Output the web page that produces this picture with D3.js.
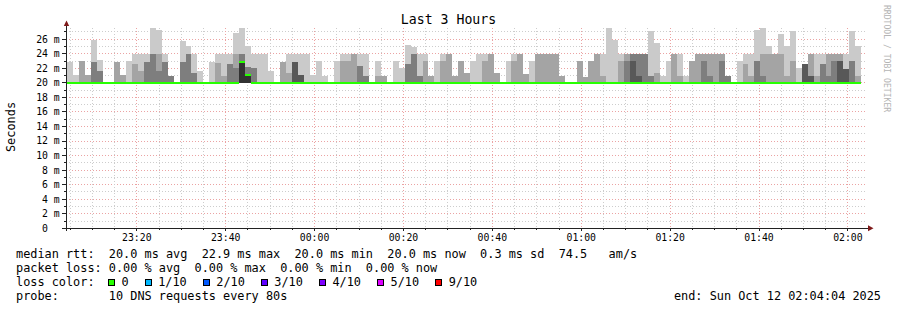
<!DOCTYPE html>
<html>
<head>
<meta charset="utf-8">
<script src="https://cdn.jsdelivr.net/npm/d3@7/dist/d3.min.js"></script>
<style>
body { margin: 0; background: #fff; }
text { font-family: "DejaVu Sans Mono", monospace; white-space: pre; }
</style>
</head>
<body>
<svg id="chart" width="897" height="310"></svg>
<script>
// smokeping: 10 sorted pings per 80s step, lower half sits on the 20 ms floor
const floorRtt = 20.0;
const p10 = [22.9,21.1,23.0,21.1,25.9,23.1,20,20,22.9,21.1, 23.0,24,24,24,27.5,27.2,24,21.0,20,25.7,
  25.0,24,21.6,20,22.9,24,24,24,26.8,27.5, 25.0,24,24,24,21.6,20,22.9,24,24,24,
  24,21.1,23.0,21.0,20,23.0,24,24,24,24, 24,20,23.0,21.0,20,23.0,22.0,25.2,24.9,24,
  24,21.0,23.0,24,24,21.0,23.0,21.3,23.0,24, 24,24,21.3,20,23.0,24,24,21.2,23.0,24,
  24,24,24,21.0,20,20,23.0,20.8,23.0,24, 24,27.5,25.9,24,24,24,24,24,27.1,25.5,
  21.0,23.0,24,24,21.0,23.0,24,24,24,24, 24,21.0,20,23.0,24,24,27.2,27.5,25.0,24,
  26.7,25.0,27.1,22.0,22.6,24,24,24,24,24, 24,24,27.1,25.0,null];
const p9 = [20,20,23.0,21.1,22.9,21.6,20,20,22.9,21.1, 20,22.6,21.6,22.9,24,24,22.9,21.0,20,22.9,
  24,21.3,20,20,20,22.7,21.0,22.6,24,24, 22.2,22.1,20,20,20,20,22.9,21.4,22.9,21.1,
  20,20,20,20,20,20,23.0,23.0,24,22.3, 21.0,20,21.0,21.0,20,20,20,22.6,24,21.0,
  23.0,21.0,20,23.0,24,21.0,23.0,21.3,20,20, 23.0,24,21.3,20,20,23.0,24,21.2,20,24,
  24,24,24,21.0,20,20,23.0,20.8,23.0,24, 21.0,20,20,23.0,24,24,24,24,21.0,21.3,
  20,20,24,21.0,20,23.0,24,24,24,24, 24,21.0,20,20,22.6,21.0,23.0,24,24,24,
  24,21.0,23.0,20,22.6,24,21.0,22.6,24,24, 24,21.9,23.0,21.0,null];
const p8 = [20,20,20,20,22.9,21.6,20,20,20,20, 20,20,20,22.9,24,21.6,22.9,21.0,20,22.9,
  24,21.3,20,20,20,20,20,22.6,22.0,24, 22.2,22.1,20,20,20,20,20,20,22.9,21.1,
  20,20,20,20,20,20,20,20,20,22.3, 21.0,20,20,20,20,20,20,22.6,24,21.0,
  20,20,20,20,20,20,20,20,20,20, 20,20,20,20,20,20,20,20,20,20,
  20,20,20,20,20,20,20,20,20,20, 20,20,20,20,23.0,24,24,24,21.0,20,
  20,20,20,20,20,20,20,23.0,21.0,20, 23.0,21.0,20,20,20,20,23.0,21.0,20,20,
  20,20,20,20,22.6,21.0,20,22.6,21.0,23.0, 23.0,21.9,23.0,20,null];
const p7 = [20,20,20,20,20,20,20,20,20,20, 20,20,20,20,20,20,20,20,20,20,
  20,20,20,20,20,20,20,20,20,22.9, 21.0,20,20,20,20,20,20,20,22.9,21.1,
  20,20,20,20,20,20,20,20,20,20, 20,20,20,20,20,20,20,20,20,20,
  20,20,20,20,20,20,20,20,20,20, 20,20,20,20,20,20,20,20,20,20,
  20,20,20,20,20,20,20,20,20,20, 20,20,20,20,20,23.0,21.0,20,20,20,
  20,20,20,20,20,20,20,20,20,20, 20,20,20,20,20,20,20,20,20,20,
  20,20,20,20,22.6,21.0,20,20,20,20, 23.0,21.9,20,20,null];
const p6 = [20,20,20,20,20,20,20,20,20,20, 20,20,20,20,20,20,20,20,20,20,
  20,20,20,20,20,20,20,20,20,22.9, 21.0,20,20,20,20,20,20,20,20,20,
  20,20,20,20,20,20,20,20,20,20, 20,20,20,20,20,20,20,20,20,20,
  20,20,20,20,20,20,20,20,20,20, 20,20,20,20,20,20,20,20,20,20,
  20,20,20,20,20,20,20,20,20,20, 20,20,20,20,20,20,20,20,20,20,
  20,20,20,20,20,20,20,20,20,20, 20,20,20,20,20,20,20,20,20,20,
  20,20,20,20,20,20,20,20,20,20, 20,20,20,20,null];
const median = [20,20,20,20,20,20,20,20,20,20, 20,20,20,20,20,20,20,20,20,20,
  20,20,20,20,20,20,20,20,20,22.9, 21.1,20,20,20,20,20,20,20,20,20,
  20,20,20,20,20,20,20,20,20,20, 20,20,20,20,20,20,20,20,20,20,
  20,20,20,20,20,20,20,20,20,20, 20,20,20,20,20,20,20,20,20,20,
  20,20,20,20,20,20,20,20,20,20, 20,20,20,20,20,20,20,20,20,20,
  20,20,20,20,20,20,20,20,20,20, 20,20,20,20,20,20,20,20,20,20,
  20,20,20,20,20,20,20,20,20,20, 20,20,20,20,null];

const yTicks = [0,2,4,6,8,10,12,14,16,18,20,22,24,26];
const yLabels = ["0","2","4","6","8","10","12","14","16","18","20","22","24","26"];
const xLabels = ["23:20","23:40","00:00","00:20","00:40","01:00","01:20","01:40","02:00"];

const lossLabels = ["0","1/10","2/10","3/10","4/10","5/10","9/10"];
const lossColors = ["#26ff00","#00b8ff","#0059ff","#5e00ff","#7e00ff","#dd00ff","#ff0000"];
const smokeColors = ["#cacaca","#a4a4a4","#7e7e7e","#585858","#323232"];

const tStart = new Date(2025, 9, 11, 23, 4, 4);
const tEnd = new Date(2025, 9, 12, 2, 4, 4);
const firstStep = new Date(2025, 9, 11, 23, 4, 17, 500);
const stepSec = 80;

const svg = d3.select("#chart");
const x = d3.scaleTime().domain([tStart, tEnd]).range([66, 866]);
const y = d3.scaleLinear().domain([0, 27.5]).range([228.3, 28.3]);

const stepT = i => new Date(+firstStep + i * stepSec * 1000);

svg.append("rect").attr("width", 897).attr("height", 310).attr("fill", "#fff");

// grid (under the data)
const grid = svg.append("g").attr("shape-rendering", "crispEdges").attr("stroke-dasharray", "1,2");
d3.range(1, 28).forEach(v => {
  grid.append("line").attr("x1", 66).attr("x2", 866).attr("y1", y(v)).attr("y2", y(v))
    .attr("stroke", v % 2 === 0 ? "#eba3a3" : "#cdcdcd");
});
const minorT = d3.timeMinute.every(5).range(tStart, tEnd);
minorT.forEach(t => {
  const major = t.getMinutes() % 20 === 0;
  grid.append("line").attr("x1", x(t)).attr("x2", x(t)).attr("y1", 28.3).attr("y2", 228.3)
    .attr("stroke", major ? "#eba3a3" : "#cdcdcd");
});

// smoke
const bands = [p10, p9, p8, p7, p6];
bands.forEach((arr, b) => {
  svg.append("g").attr("shape-rendering", "crispEdges")
    .selectAll("rect").data(arr.map((v, i) => ({v, i})).filter(d => d.v != null && d.v > floorRtt))
    .join("rect")
    .attr("x", d => x(stepT(d.i)))
    .attr("width", d => x(stepT(d.i + 1)) - x(stepT(d.i)))
    .attr("y", d => y(d.v))
    .attr("height", d => y(floorRtt) - y(d.v))
    .attr("fill", smokeColors[b]);
});

// median, drawn as a thin stacked band like smokeping does
const sw = 27.5 / 200;
svg.append("g").attr("shape-rendering", "crispEdges")
  .selectAll("rect").data(median.map((v, i) => ({v, i})).filter(d => d.v != null))
  .join("rect")
  .attr("x", d => x(stepT(d.i)))
  .attr("width", d => x(stepT(d.i + 1)) - x(stepT(d.i)))
  .attr("y", d => y(d.v + sw))
  .attr("height", d => y(d.v - sw) - y(d.v + sw))
  .attr("fill", lossColors[0]);

// axes
const ax = svg.append("g").attr("shape-rendering", "crispEdges").attr("stroke", "#222");
ax.append("line").attr("x1", 62).attr("x2", 868).attr("y1", y(0)).attr("y2", y(0));
ax.append("line").attr("x1", 66.5).attr("x2", 66.5).attr("y1", 231).attr("y2", 26);
d3.range(1, 28).forEach(v => {
  ax.append("line").attr("x1", v % 2 === 0 ? 62 : 64).attr("x2", 66).attr("y1", y(v)).attr("y2", y(v));
});
minorT.forEach(t => {
  ax.append("line").attr("x1", x(t)).attr("x2", x(t)).attr("y1", y(0)).attr("y2", y(0) + (t.getMinutes() % 20 === 0 ? 3 : 2));
});
svg.append("path").attr("d", "M868,225.3L873.5,228.3L868,231.3Z").attr("fill", "#7f1a1a");
svg.append("path").attr("d", "M63.8,26L66.5,20.5L69.2,26Z").attr("fill", "#7f1a1a");

// y tick labels
const yl = svg.append("g").attr("font-size", "9.8px").attr("fill", "#000");
yTicks.forEach((v, i) => {
  yl.append("text").attr("x", 48).attr("y", y(v)).attr("dy", "0.35em").attr("text-anchor", "end").text(yLabels[i]);
  if (v > 0) yl.append("text").attr("x", 53.8).attr("y", y(v)).attr("dy", "0.35em").text("m");
});

// x tick labels
const xt = d3.timeMinute.every(20).range(tStart, tEnd);
xt.forEach((t, i) => {
  svg.append("text").attr("x", x(t)).attr("y", 241).attr("text-anchor", "middle")
    .attr("font-size", "9.8px").text(xLabels[i]);
});

// titles
svg.append("text").attr("x", 448.5).attr("y", 23.5).attr("text-anchor", "middle")
  .attr("font-size", "13.2px").text("Last 3 Hours");
svg.append("text").attr("transform", "translate(14.8,127) rotate(-90)").attr("text-anchor", "middle")
  .attr("font-size", "11.9px").text("Seconds");
svg.append("text").attr("transform", "translate(884,5) rotate(90)")
  .attr("font-size", "8.1px").attr("fill", "#b4b4b4").text("RRDTOOL / TOBI OETIKER");

// legend
const lg = svg.append("g").attr("font-size", "11.87px").attr("fill", "#000");
const cw = 7.15;
lg.append("text").attr("x", 16).attr("y", 257.8)
  .text("median rtt:  20.0 ms avg  22.9 ms max  20.0 ms min  20.0 ms now  0.3 ms sd  74.5   am/s");
lg.append("text").attr("x", 16).attr("y", 272)
  .text("packet loss: 0.00 % avg  0.00 % max  0.00 % min  0.00 % now");
lg.append("text").attr("x", 16).attr("y", 286.2).text("loss color:");
let bx = 108;
lossLabels.forEach((l, i) => {
  lg.append("rect").attr("x", bx + 0.5).attr("y", 279.5).attr("width", 6).attr("height", 6)
    .attr("fill", lossColors[i]).attr("stroke", "#000").attr("shape-rendering", "crispEdges");
  lg.append("text").attr("x", bx + 13.5).attr("y", 286.2).text(l);
  bx = bx + 13.5 + l.length * cw + 16;
});
lg.append("text").attr("x", 16).attr("y", 300.4).text("probe:       10 DNS requests every 80s");
lg.append("text").attr("x", 881).attr("y", 300.4).attr("text-anchor", "end")
  .text("end: Sun Oct 12 02:04:04 2025");
</script>
</body>
</html>
